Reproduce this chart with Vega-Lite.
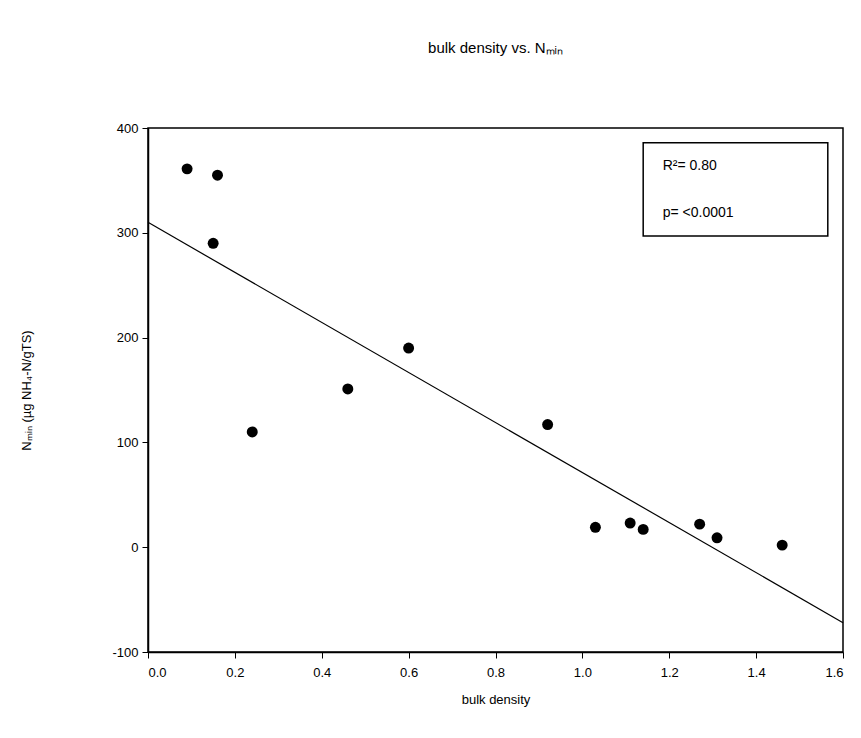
{
  "$schema": "https://vega.github.io/schema/vega-lite/v6.json",
  "width": 695,
  "height": 524,
  "autosize": "none",
  "padding": {"left": 148, "top": 128, "right": 18, "bottom": 86},
  "background": "white",
  "config": {
    "font": "Liberation Sans",
    "view": {"stroke": "black", "strokeWidth": 1.5},
    "axis": {"grid": false, "domainColor": "black", "domainWidth": 1.5, "tickColor": "black", "tickSize": 6, "labelColor": "black", "titleColor": "black", "labelFont": "Liberation Sans", "titleFont": "Liberation Sans", "labelFontSize": 13, "titleFontSize": 13, "titleFontWeight": "normal"}
  },
  "title": {"text": "bulk density vs. Nₘᵢₙ", "fontSize": 15, "fontWeight": "normal", "font": "Liberation Sans", "color": "black", "offset": 66, "anchor": "middle"},
  "datasets": {
    "pts": [
      {"bd": 0.09, "n": 361}, {"bd": 0.16, "n": 355}, {"bd": 0.15, "n": 290},
      {"bd": 0.24, "n": 110}, {"bd": 0.46, "n": 151}, {"bd": 0.60, "n": 190},
      {"bd": 0.92, "n": 117}, {"bd": 1.03, "n": 19}, {"bd": 1.11, "n": 23},
      {"bd": 1.14, "n": 17}, {"bd": 1.27, "n": 22}, {"bd": 1.31, "n": 9},
      {"bd": 1.46, "n": 2}
    ],
    "fit": [{"bd": 0.0, "n": 310}, {"bd": 1.6, "n": -72}],
    "box": [{"x1": 1.14, "x2": 1.565, "y1": 297, "y2": 386}],
    "txt": [{"x": 1.185, "y": 364, "t": "R²= 0.80"}, {"x": 1.185, "y": 319, "t": "p= <0.0001"}]
  },
  "layer": [
    {
      "data": {"name": "fit"},
      "mark": {"type": "line", "color": "black", "strokeWidth": 1.2},
      "encoding": {
        "x": {"field": "bd", "type": "quantitative", "scale": {"domain": [0, 1.6], "nice": false, "zero": false}, "axis": {"title": "bulk density", "values": [0, 0.2, 0.4, 0.6, 0.8, 1.0, 1.2, 1.4, 1.6], "format": ".1f", "labelPadding": 8, "titlePadding": 14}},
        "y": {"field": "n", "type": "quantitative", "scale": {"domain": [-100, 400], "nice": false, "zero": false}, "axis": {"title": "Nₘᵢₙ (µg NH₄-N/gTS)", "values": [-100, 0, 100, 200, 300, 400], "labelExpr": "replace(datum.label, '−', '-')", "labelPadding": 4, "titlePadding": 78}}
      }
    },
    {
      "data": {"name": "pts"},
      "mark": {"type": "circle", "color": "black", "opacity": 1, "size": 120},
      "encoding": {
        "x": {"field": "bd", "type": "quantitative"},
        "y": {"field": "n", "type": "quantitative"}
      }
    },
    {
      "data": {"name": "box"},
      "mark": {"type": "rect", "fill": "white", "stroke": "black", "strokeWidth": 1.5},
      "encoding": {
        "x": {"field": "x1", "type": "quantitative"},
        "x2": {"field": "x2"},
        "y": {"field": "y1", "type": "quantitative"},
        "y2": {"field": "y2"}
      }
    },
    {
      "data": {"name": "txt"},
      "mark": {"type": "text", "align": "left", "baseline": "middle", "fontSize": 14, "color": "black", "font": "Liberation Sans"},
      "encoding": {
        "x": {"field": "x", "type": "quantitative"},
        "y": {"field": "y", "type": "quantitative"},
        "text": {"field": "t"}
      }
    }
  ]
}
